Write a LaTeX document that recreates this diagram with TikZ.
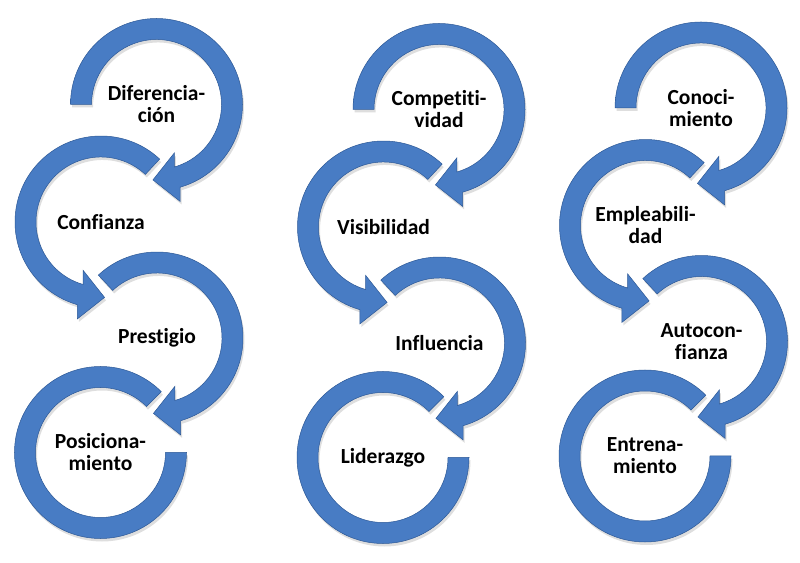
\documentclass[tikz,border=0pt]{standalone}
\usepackage{fontspec}
\setmainfont{Carlito}[Ligatures=NoCommon]
\usetikzlibrary{calc}
\definecolor{ringdark}{RGB}{44,90,156}
\definecolor{ringmid}{RGB}{72,124,196}
\definecolor{ringlight}{RGB}{108,160,226}
\definecolor{ringedge}{RGB}{44,88,150}
\pgfdeclareradialshading{ringshade}{\pgfpoint{0bp}{0bp}}{%
  color(0bp)=(ringmid); color(28bp)=(ringmid); color(29.6bp)=(ringdark);
  color(31.2bp)=(ringmid); color(34bp)=(ringlight); color(36.8bp)=(ringmid);
  color(39bp)=(ringdark); color(40.5bp)=(ringmid); color(50bp)=(ringmid)}
\tikzset{
  lbl/.style={font=\bfseries\fontsize{21.5}{22}\selectfont, align=center, inner sep=0pt, text=black},
  ringshadow/.style={fill=black, opacity=0.13},
  ringline/.style={draw=ringedge, line width=0.5pt}
}
% #1 centre name, #2 path
\newcommand{\ringdraw}[2]{%
  \begin{scope}[transform canvas={shift={(1.5pt,-3pt)}}]
    \fill[ringshadow] #2;
  \end{scope}
  \begin{scope}
    \clip #2;
    \shade[shading=ringshade] (#1) circle (110pt);
  \end{scope}
  \path[ringline] #2;
}
% clockwise ring: #1 name, #2 centre, #3 start, #4 body end, #5 tip
\newcommand{\RingCW}[5]{%
  \coordinate (#1) at #2;
  \coordinate (#1b) at ($(#1)+(#4:75.5pt)$);
  \coordinate (#1t) at ($(#1)+(#5:75.5pt)$);
  \coordinate (#1o) at ($(#1b)!24.5pt!90:(#1t)$);
  \coordinate (#1i) at ($(#1b)!24.5pt!-90:(#1t)$);
  \ringdraw{#1}{($(#1)+(#3:86pt)$) arc[start angle=#3, end angle=#4, radius=86pt]
    -- (#1o) -- (#1t) -- (#1i) -- ($(#1)+(#4:65pt)$)
    arc[start angle=#4, end angle=#3, radius=65pt] -- cycle}%
}
% counter-clockwise ring
\newcommand{\RingCCW}[5]{%
  \coordinate (#1) at #2;
  \coordinate (#1b) at ($(#1)+(#4:75.5pt)$);
  \coordinate (#1t) at ($(#1)+(#5:75.5pt)$);
  \coordinate (#1o) at ($(#1b)!24.5pt!-90:(#1t)$);
  \coordinate (#1i) at ($(#1b)!24.5pt!90:(#1t)$);
  \ringdraw{#1}{($(#1)+(#3:86pt)$) arc[start angle=#3, end angle=#4, radius=86pt]
    -- (#1o) -- (#1t) -- (#1i) -- ($(#1)+(#4:65pt)$)
    arc[start angle=#4, end angle=#3, radius=65pt] -- cycle}%
}
% last ring, no arrow head
\newcommand{\RingEnd}[3]{%
  \coordinate (#1) at #2;
  \ringdraw{#1}{($(#1)+(#3:86pt)$) arc[start angle=#3, end angle=360, radius=86pt]
    -- ($(#1)+(0:65pt)$) arc[start angle=360, end angle=#3, radius=65pt] -- cycle}%
}
\begin{document}
\begin{tikzpicture}[x=1pt,y=1pt]
\useasboundingbox (0,0) rectangle (800,562);
\fill[white] (0,0) rectangle (800,562);

% column 1
\RingCW{a1}{(156.5,457.5)}{180}{-74}{-92.7}
\RingCCW{a2}{(101,340)}{47}{254}{272.7}
\RingCW{a3}{(157,224)}{133}{-74}{-92.7}
\RingEnd{a4}{(100.5,109.5)}{45}
% column 2
\RingCW{b1}{(439,452.5)}{180}{-74}{-92.7}
\RingCCW{b2}{(383.5,335)}{47}{254}{272.7}
\RingCW{b3}{(439.5,219)}{133}{-74}{-92.7}
\RingEnd{b4}{(383,104.5)}{45}
% column 3
\RingCW{c1}{(701,454)}{180}{-74}{-92.7}
\RingCCW{c2}{(645.5,336.5)}{47}{254}{272.7}
\RingCW{c3}{(701.5,220.5)}{133}{-74}{-92.7}
\RingEnd{c4}{(645,106)}{45}

\node[lbl] (ta1) at (a1) {Diferencia-\\ción};
\node[lbl] (ta2) at (a2) {Confianza};
\node[lbl] (ta3) at (a3) {Prestigio};
\node[lbl] (ta4) at (a4) {Posiciona-\\miento};
\node[lbl] (tb1) at (b1) {Competiti-\\vidad};
\node[lbl] (tb2) at (b2) {Visibilidad};
\node[lbl] (tb3) at (b3) {Influencia};
\node[lbl] (tb4) at (b4) {Liderazgo};
\node[lbl] (tc1) at (c1) {Conoci-\\miento};
\node[lbl] (tc2) at (c2) {Empleabili-\\dad};
\node[lbl] (tc3) at (c3) {Autocon-\\fianza};
\node[lbl] (tc4) at (c4) {Entrena-\\miento};
\end{tikzpicture}
\end{document}
